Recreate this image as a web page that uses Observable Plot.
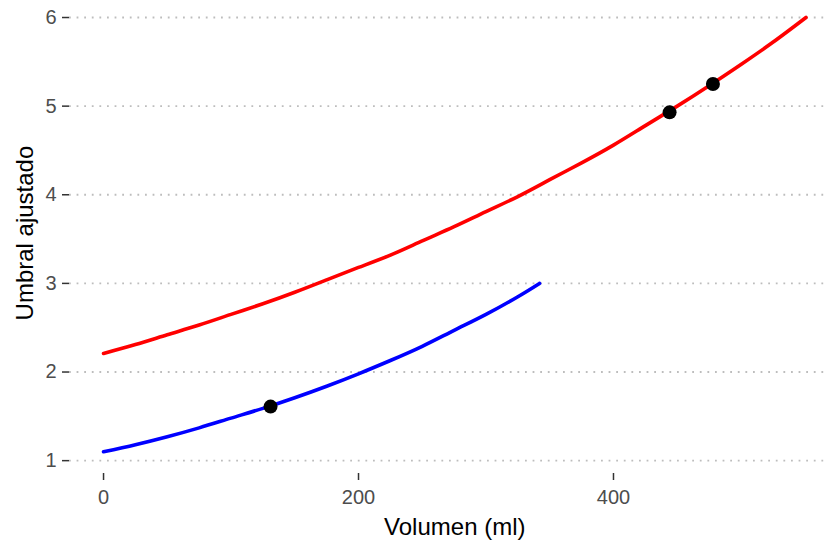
<!DOCTYPE html>
<html><head><meta charset="utf-8">
<script src="https://cdn.jsdelivr.net/npm/d3@7"></script>
<script src="https://cdn.jsdelivr.net/npm/@observablehq/plot@0.6"></script>
<style>body{margin:0;background:#fff;} svg{display:block;}</style>
</head><body><div id="chart"></div>
<script>
const redX = [0,25,50,75,100,125,150,175,200,225,250,275,300,325,350,375,400,425,450,475,500,525,551];
const redY = [2.21,2.31,2.42,2.53,2.65,2.77,2.90,3.04,3.18,3.32,3.48,3.64,3.81,3.98,4.17,4.36,4.56,4.78,5.00,5.23,5.47,5.72,6.00];
const blueX = [0,25,50,75,100,125,150,175,200,225,250,275,300,325,342];
const blueY = [1.10,1.18,1.27,1.37,1.48,1.59,1.71,1.84,1.98,2.13,2.29,2.47,2.65,2.85,3.00];
const ptX = [131,444,478];
const ptY = [1.61,4.93,5.25];
const xTicks = [0,200,400];
const yTicks = [1,2,3,4,5,6];
const xTitle = "Volumen (ml)";
const yTitle = "Umbral ajustado";

const red = redX.map((x,i)=>({x, y: redY[i]}));
const blue = blueX.map((x,i)=>({x, y: blueY[i]}));
const pts = ptX.map((x,i)=>({x, y: ptY[i]}));

const plot = Plot.plot({
  width: 825, height: 544,
  marginLeft: 69, marginRight: 0, marginTop: 0, marginBottom: 71,
  style: {fontFamily: "'Liberation Sans', Arial, sans-serif", background: "#fff", overflow: "visible"},
  x: {domain: [-26.7, 566.3]},
  y: {domain: [0.855, 6.192]},
  marks: [
    Plot.gridY(yTicks, {stroke: "#bdbdbd", strokeOpacity: 1, strokeWidth: 1.8, strokeDasharray: "1.8,5.8"}),
    Plot.axisY(yTicks, {tickSize: 7, tickPadding: 6, fontSize: 20, fill: "#4d4d4d", stroke: "#333", strokeWidth: 1.5, tickFormat: d3.format("d"), label: null}),
    Plot.axisX(xTicks, {tickSize: 7, tickPadding: 9, fontSize: 20, fill: "#4d4d4d", stroke: "#333", strokeWidth: 1.5, tickFormat: d3.format("d"), label: null}),
    Plot.line(red, {x: "x", y: "y", stroke: "#ff0000", strokeWidth: 3.6, curve: "natural"}),
    Plot.line(blue, {x: "x", y: "y", stroke: "#0000ff", strokeWidth: 3.6, curve: "natural"}),
    Plot.dot(pts, {x: "x", y: "y", r: 7, fill: "#000", stroke: "none"}),
    Plot.text([xTitle], {x: () => 275.5, frameAnchor: "bottom", lineAnchor: "middle", textAnchor: "middle", dy: 54, fontSize: 24, fill: "#000", text: d => d}),
    Plot.text([yTitle], {y: () => 3.568, frameAnchor: "left", lineAnchor: "middle", textAnchor: "middle", dx: -44, rotate: -90, fontSize: 24, fill: "#000", text: d => d})
  ]
});
document.getElementById("chart").appendChild(plot);
</script>
</body></html>
